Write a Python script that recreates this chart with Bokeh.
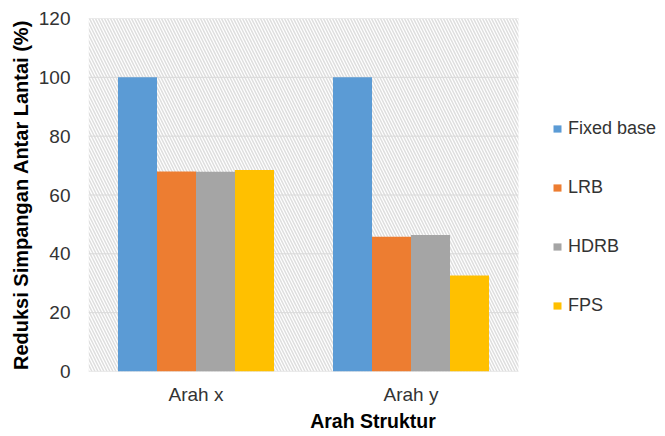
import numpy as np
from bokeh.plotting import figure
from bokeh.models import (ColumnDataSource, Range1d, BoxAnnotation, Legend, LegendItem,
                          FixedTicker)
from bokeh.transform import dodge
from bokeh.embed import file_html
from bokeh.resources import INLINE

categories = ["Arah x", "Arah y"]
series_names = ["Fixed base", "LRB", "HDRB", "FPS"]
fixed_base = [100, 100]
lrb = [68.0, 45.8]
hdrb = [67.9, 46.4]
fps = [68.5, 32.6]
y_ticks = [0, 20, 40, 60, 80, 100, 120]

colors = ["#5B9BD5", "#ED7D31", "#A5A5A5", "#FFC000"]
xs = list(range(len(categories)))
source = ColumnDataSource(data=dict(x=xs, fixed=fixed_base, lrb=lrb, hdrb=hdrb, fps=fps))

W, H = 657, 434
left_b, right_b, top_b = 88, 0, 18
frame_h = 353
bottom_b = H - top_b - frame_h
px_per_cat = 215.0
frame_w = W - left_b - right_b
x_start = -0.5
x_end = x_start + frame_w / px_per_cat
cat_lo, cat_hi = -0.5, len(categories) - 0.5

p = figure(x_range=Range1d(x_start, x_end), y_range=Range1d(0, 120),
           width=W, height=H, output_backend="svg", toolbar_location=None,
           min_border_left=left_b, min_border_right=right_b,
           min_border_top=top_b, min_border_bottom=bottom_b)
p.outline_line_color = None
p.xgrid.grid_line_color = None
p.ygrid.grid_line_color = None

bg = BoxAnnotation(left=cat_lo, right=cat_hi, fill_color="white", fill_alpha=1, line_color=None,
                   hatch_pattern="\\", hatch_color="#dedede", hatch_scale=6, hatch_weight=1.5,
                   level="image")
p.add_layout(bg)

p.segment(x0=[cat_lo] * len(y_ticks), x1=[cat_hi] * len(y_ticks), y0=y_ticks, y1=y_ticks,
          line_color="#d9d9d9", line_width=1, level="underlay")

w = 0.1814
offsets = [-0.2721, -0.0907, 0.0907, 0.2721]
cols = ["fixed", "lrb", "hdrb", "fps"]
renderers = []
for col, off, c in zip(cols, offsets, colors):
    r = p.vbar(x=dodge("x", off), top=col, width=w, source=source,
               fill_color=c, line_color=None)
    renderers.append(r)

items = [LegendItem(label=n, renderers=[r]) for n, r in zip(series_names, renderers)]
legend = Legend(items=items, location=(464, 55), orientation="vertical",
                glyph_width=10, glyph_height=9, label_height=22, spacing=37,
                padding=0, margin=0, border_line_color=None, background_fill_alpha=0,
                label_text_font="Liberation Sans", label_text_font_size="18px",
                label_text_color="#333333", label_standoff=6)
p.add_layout(legend, "center")

p.yaxis.ticker = FixedTicker(ticks=y_ticks)
p.yaxis.axis_line_color = None
p.yaxis.major_tick_out = 0
p.yaxis.major_tick_in = 0
p.yaxis.minor_tick_line_color = None
p.yaxis.major_label_standoff = 18
p.yaxis.axis_label = "Reduksi Simpangan Antar Lantai (%)"
p.yaxis.axis_label_standoff = 4
p.yaxis.axis_label_text_font_size = "20px"

p.xaxis.ticker = FixedTicker(ticks=xs)
p.xaxis.major_label_overrides = {i: c for i, c in zip(xs, categories)}
p.xaxis.bounds = (cat_lo, cat_hi)
p.xaxis.axis_line_color = None
p.xaxis.major_tick_out = 0
p.xaxis.major_tick_in = 0
p.xaxis.minor_tick_line_color = None
p.xaxis.major_label_standoff = 12
p.xaxis.axis_label = "Arah Struktur"
p.xaxis.axis_label_standoff = 2
p.xaxis.axis_label_text_font_size = "19.5px"

for ax in (p.xaxis, p.yaxis):
    ax.major_label_text_font = "Liberation Sans"
    ax.major_label_text_font_size = "19px"
    ax.major_label_text_color = "#333333"
    ax.axis_label_text_font = "Liberation Sans"
    ax.axis_label_text_font_style = "bold"
    ax.axis_label_text_color = "#000000"

open("out.html", "w").write(file_html(p, INLINE))
